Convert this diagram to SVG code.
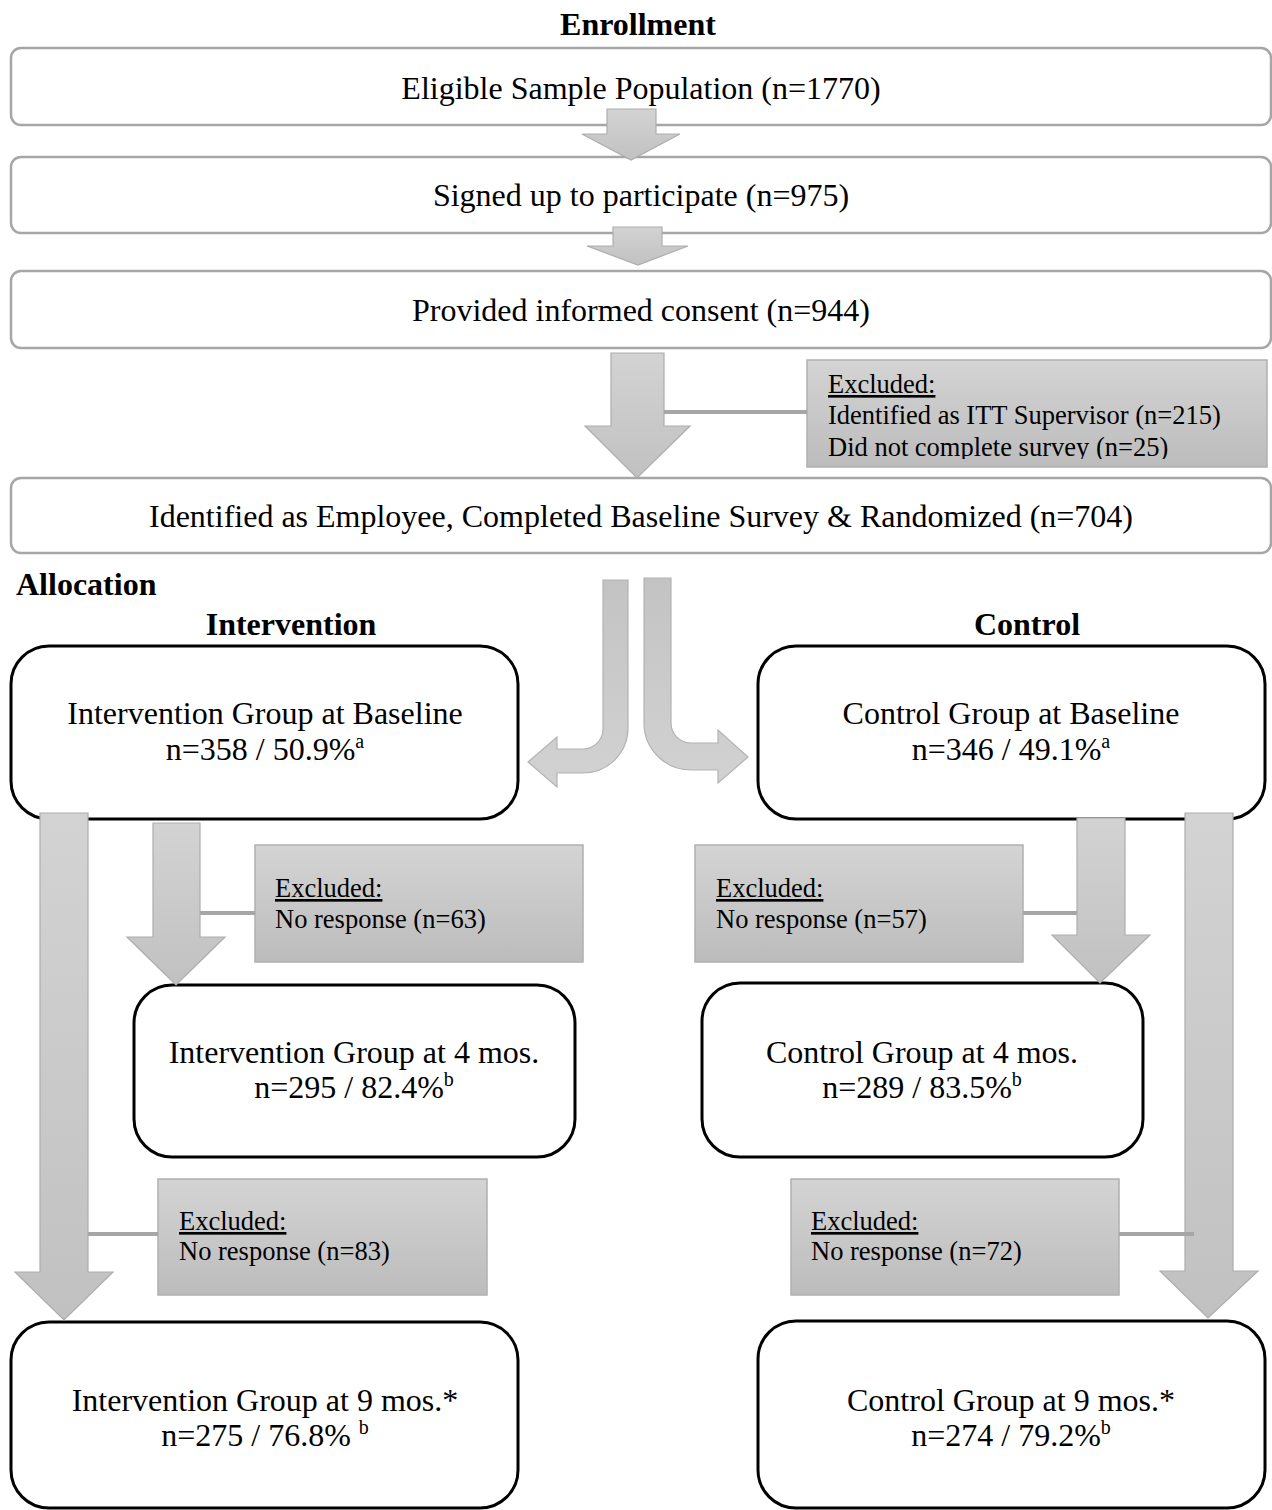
<svg xmlns="http://www.w3.org/2000/svg" width="1272" height="1510" viewBox="0 0 1272 1510">
<defs>
<linearGradient id="gArrow" x1="0" y1="0" x2="0" y2="1"><stop offset="0" stop-color="#d3d3d3"/><stop offset="1" stop-color="#c1c1c1"/></linearGradient>
<linearGradient id="gBend" x1="0" y1="0" x2="0" y2="1"><stop offset="0" stop-color="#c3c3c3"/><stop offset="1" stop-color="#d2d2d2"/></linearGradient>
<linearGradient id="gExcl" x1="0" y1="0" x2="0" y2="1"><stop offset="0" stop-color="#d4d4d4"/><stop offset="1" stop-color="#bcbcbc"/></linearGradient>
<clipPath id="clipEx"><rect x="807" y="360" width="460" height="99"/></clipPath>
</defs>
<style>
.t{font-family:"Liberation Serif","Times New Roman",serif;font-size:32px;fill:#000}
.h{font-weight:bold}
.c{text-anchor:middle}
.ex{font-size:26.5px}
.u{text-decoration:underline}
.sup{font-size:20px}
.box1{fill:#fff;stroke:#a6a6a6;stroke-width:2.5}
.box2{fill:#fff;stroke:#000;stroke-width:3}
.excl{fill:url(#gExcl);stroke:#b0b0b0;stroke-width:1.5}
.arr{fill:url(#gArrow);stroke:#adadad;stroke-width:1.2}
.bend{fill:url(#gBend);stroke:#b3b3b3;stroke-width:1.2}
.link{stroke:#a6a6a6;stroke-width:4;fill:none}
</style>
<rect width="1272" height="1510" fill="#fff"/>

<g id="headings">
<text class="t h c" x="638" y="35">Enrollment</text>
<text class="t h" x="16" y="595">Allocation</text>
<text class="t h c" x="291" y="635">Intervention</text>
<text class="t h c" x="1027" y="635">Control</text>
</g>

<g id="eligible"><rect class="box1" x="11" y="48" width="1260" height="77" rx="10"/><text class="t c" x="641" y="99">Eligible Sample Population (n=1770)</text></g>
<g id="signed"><rect class="box1" x="11" y="157" width="1260" height="76" rx="10"/><text class="t c" x="641" y="206">Signed up to participate (n=975)</text></g>
<g id="consent"><rect class="box1" x="11" y="271" width="1260" height="77" rx="10"/><text class="t c" x="641" y="321">Provided informed consent (n=944)</text></g>
<g id="excluded-top"><rect class="excl" x="807" y="360" width="460" height="107"/>
<g clip-path="url(#clipEx)"><text class="t ex u" x="828" y="393">Excluded:</text><text class="t ex" x="828" y="424">Identified as ITT Supervisor (n=215)</text><text class="t ex" x="828" y="456">Did not complete survey (n=25)</text></g></g>
<g id="randomized"><rect class="box1" x="11" y="478" width="1260" height="75" rx="10"/><text class="t c" x="641" y="527">Identified as Employee, Completed Baseline Survey &amp; Randomized (n=704)</text></g>

<g id="int-baseline"><rect class="box2" x="11" y="646" width="507" height="173" rx="38"/><text class="t c" x="265" y="724">Intervention Group at Baseline</text><text class="t c" x="265" y="760">n=358 / 50.9%<tspan class="sup" dy="-12">a</tspan></text></g>
<g id="ctl-baseline"><rect class="box2" x="758" y="646" width="507" height="173" rx="38"/><text class="t c" x="1011" y="724">Control Group at Baseline</text><text class="t c" x="1011" y="760">n=346 / 49.1%<tspan class="sup" dy="-12">a</tspan></text></g>

<g id="excl-int-4"><rect class="excl" x="255" y="845" width="328" height="117"/><text class="t ex u" x="275" y="897">Excluded:</text><text class="t ex" x="275" y="928">No response (n=63)</text></g>
<g id="excl-ctl-4"><rect class="excl" x="695" y="845" width="328" height="117"/><text class="t ex u" x="716" y="897">Excluded:</text><text class="t ex" x="716" y="928">No response (n=57)</text></g>

<g id="int-4"><rect class="box2" x="134" y="985" width="441" height="172" rx="38"/><text class="t c" x="354" y="1063">Intervention Group at 4 mos.</text><text class="t c" x="354" y="1098">n=295 / 82.4%<tspan class="sup" dy="-12">b</tspan></text></g>
<g id="ctl-4"><rect class="box2" x="702" y="983" width="441" height="174" rx="38"/><text class="t c" x="922" y="1063">Control Group at 4 mos.</text><text class="t c" x="922" y="1098">n=289 / 83.5%<tspan class="sup" dy="-12">b</tspan></text></g>

<g id="excl-int-9"><rect class="excl" x="158" y="1179" width="329" height="116"/><text class="t ex u" x="179" y="1230">Excluded:</text><text class="t ex" x="179" y="1260">No response (n=83)</text></g>
<g id="excl-ctl-9"><rect class="excl" x="791" y="1179" width="328" height="116"/><text class="t ex u" x="811" y="1230">Excluded:</text><text class="t ex" x="811" y="1260">No response (n=72)</text></g>

<g id="int-9"><rect class="box2" x="11" y="1322" width="507" height="186" rx="38"/><text class="t c" x="265" y="1411">Intervention Group at 9 mos.*</text><text class="t c" x="265" y="1446">n=275 / 76.8% <tspan class="sup" dy="-12">b</tspan></text></g>
<g id="ctl-9"><rect class="box2" x="758" y="1321" width="507" height="187" rx="38"/><text class="t c" x="1011" y="1411">Control Group at 9 mos.*</text><text class="t c" x="1011" y="1446">n=274 / 79.2%<tspan class="sup" dy="-12">b</tspan></text></g>

<g id="connectors">
<path class="arr" d="M607,109 H656 V134 H680 L631,160 L582,134 H607 Z"/>
<path class="arr" d="M613,227 H662 V246 H688 L638,265 L587,246 H613 Z"/>
<path class="arr" d="M611,353 H664 V426 H690 L637,478 L585,426 H611 Z"/>
<path class="link" d="M664,412 H807"/>
<path class="bend" d="M603,580 L628,580 L628,728 A45,45 0 0 1 583,773 L557,773 L557,787 L528,762 L557,737 L557,749 L583,749 A20,20 0 0 0 603,729 Z"/>
<path class="bend" d="M644,578 L671,578 L671,723 A20,20 0 0 0 691,743 L718,743 L718,730 L748,757 L718,783 L718,770 L691,770 A47,47 0 0 1 644,723 Z"/>
<path class="arr" d="M40,813 H88 V1272 H113 L64,1320 L15,1272 H40 Z"/>
<path class="arr" d="M153,823 H200 V937 H225 L176,985 L127,937 H153 Z"/>
<path class="arr" d="M1077,818 H1125 V935 H1150 L1100,983 L1052,935 H1077 Z"/>
<path class="arr" d="M1185,813 H1233 V1271 H1258 L1208,1318 L1160,1271 H1185 Z"/>
<path class="link" d="M200,913 H255"/>
<path class="link" d="M1023,913 H1077"/>
<path class="link" d="M88,1234 H158"/>
<path class="link" d="M1119,1234 H1194"/>
</g>
</svg>
